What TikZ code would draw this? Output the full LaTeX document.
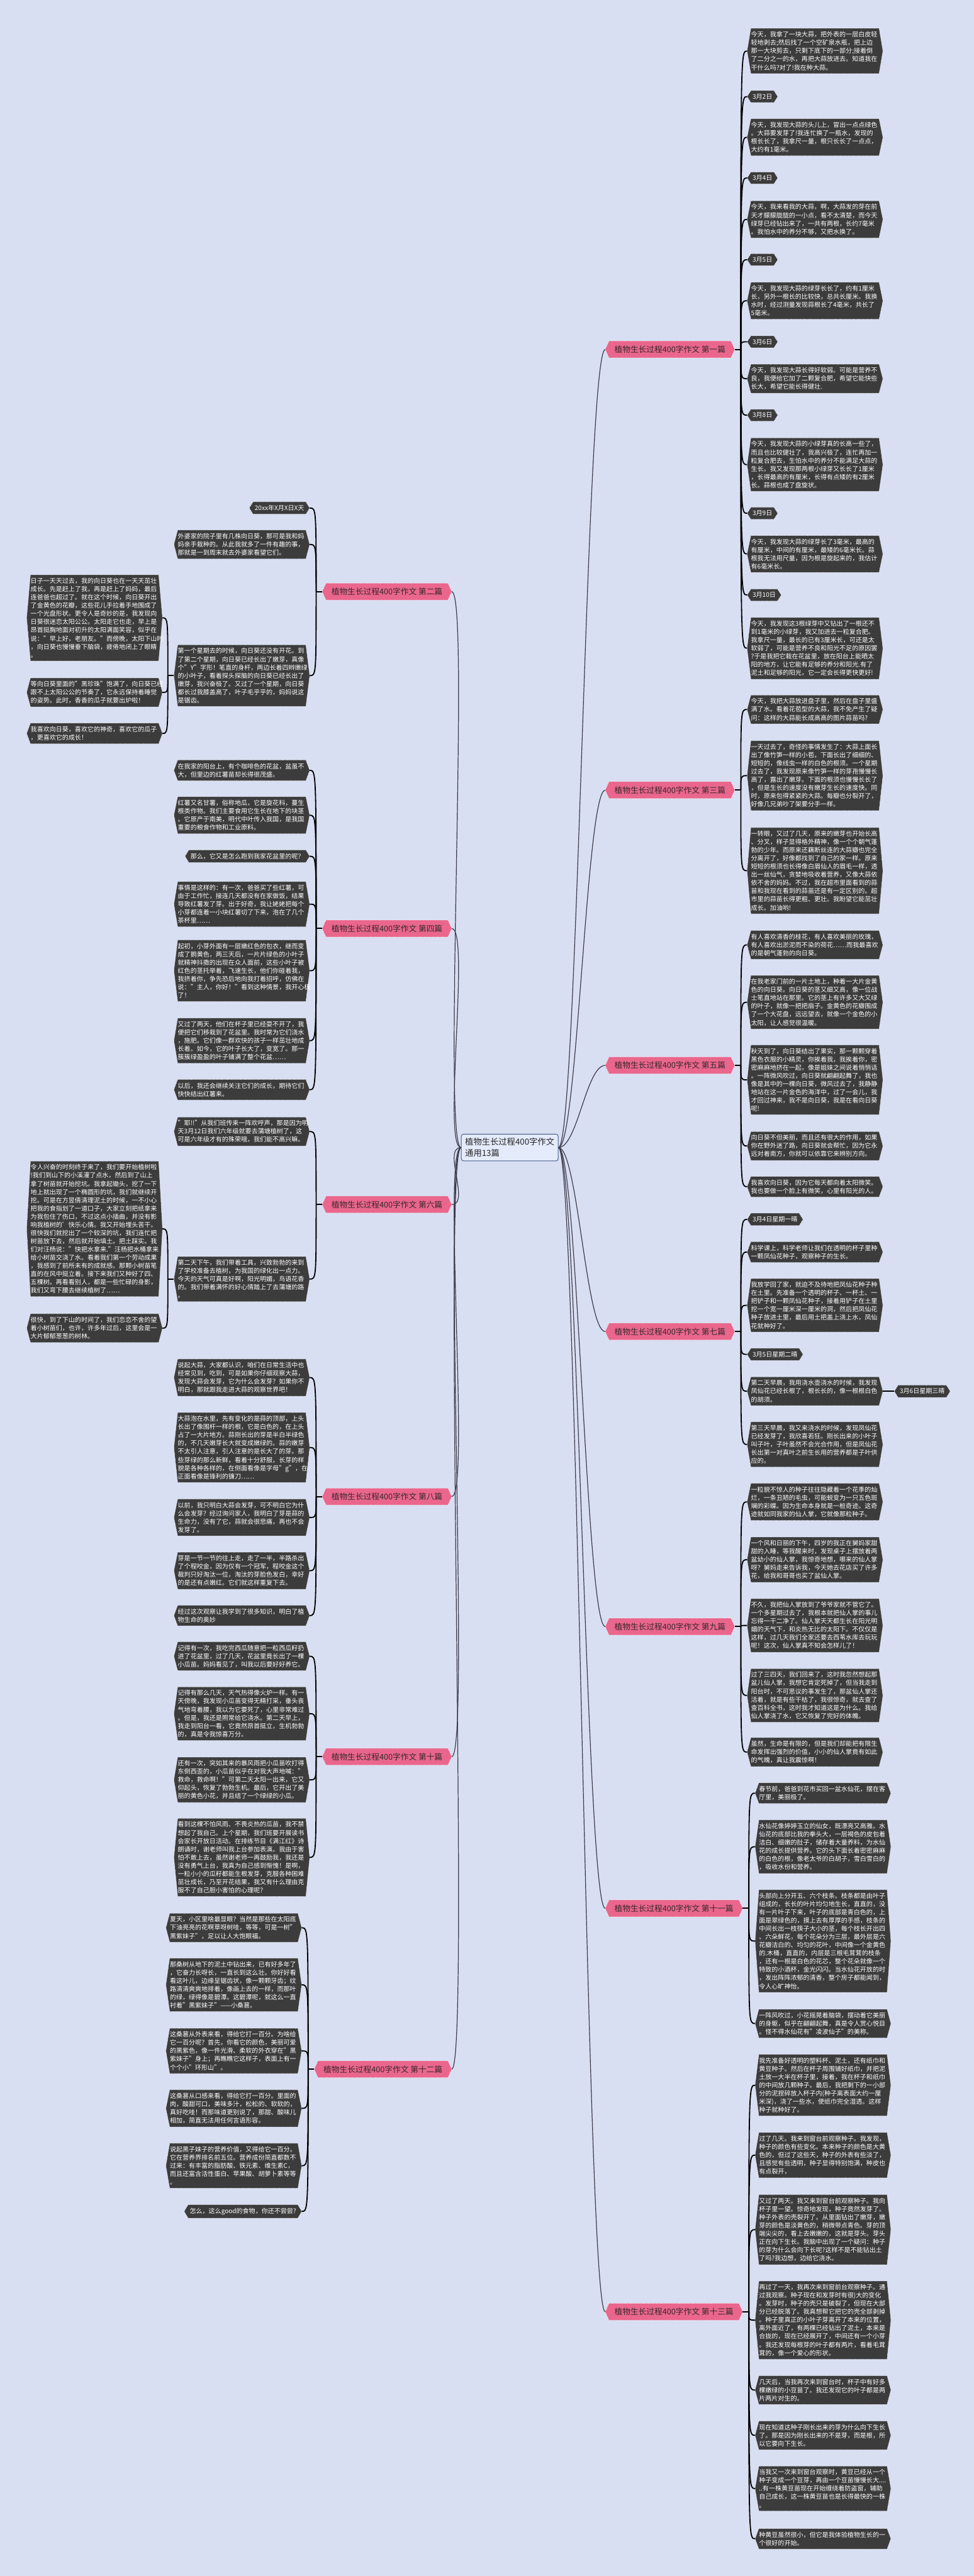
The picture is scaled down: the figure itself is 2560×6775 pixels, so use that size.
\documentclass[tikz,border=0pt]{standalone}
\usepackage{fontspec}
\setmainfont{Noto Sans CJK SC}
\usetikzlibrary{calc}
\pgfdeclarelayer{bg}
\pgfdeclarelayer{background}
\pgfsetlayers{bg,background,main}
\definecolor{bgc}{RGB}{217,223,242}
\definecolor{leafc}{RGB}{60,60,60}
\definecolor{pinkc}{RGB}{234,102,140}
\definecolor{brtext}{RGB}{55,40,45}
\definecolor{cenfill}{RGB}{228,235,250}
\definecolor{cendraw}{RGB}{70,90,140}
\definecolor{trunkc}{RGB}{60,60,75}
\newcommand\leaffont{\fontsize{8.3pt}{10.8pt}\selectfont}
\newcommand\brfont{\fontsize{10.5pt}{13pt}\selectfont}
\newcommand\cenfont{\fontsize{11pt}{15pt}\selectfont}
\newcommand\hexshape[2]{%
\begin{pgfonlayer}{background}
\path[fill=#2,draw=white,densely dotted,line width=0.5pt] (#1.west) -- ([xshift=5pt]#1.north west) -- ([xshift=-5pt]#1.north east) -- (#1.east) -- ([xshift=-5pt]#1.south east) -- ([xshift=5pt]#1.south west) -- cycle;
\end{pgfonlayer}}
\newcommand\lnode[4]{\node[#1] (#2) at #3 {#4};\hexshape{#2}{leafc}}
\newcommand\brnode[4]{\node[branch,#1] (#2) at #3 {植物生长过程400字作文 #4};\hexshape{#2}{pinkc}}
\newcommand\conR[2]{\draw[conn] (#1) .. controls (#1 |- #2.west) .. (#2.west);}
\newcommand\conL[2]{\draw[conn] (#1) .. controls (#1 |- #2.east) .. (#2.east);}
\tikzset{
 leaf/.style={text=white,font=\leaffont,align=left,inner xsep=5pt,inner ysep=4pt,text width=168pt},
 shortleaf/.style={text=white,font=\leaffont,align=left,inner xsep=7pt,inner ysep=4pt},
 branch/.style={text=brtext,font=\brfont,inner xsep=12pt,inner ysep=6pt,anchor=west},
 conn/.style={draw=black,line width=1.5pt},
 trunk/.style={draw=trunkc,line width=1pt},
 cennode/.style={draw=cendraw,fill=cenfill,line width=0.8pt,rounded corners=3pt,font=\cenfont,text=black!85,align=left,inner sep=5pt},
 RL/.style={leaf,anchor=west},
 RS/.style={shortleaf,anchor=west},
 LL/.style={leaf,anchor=east},
 LS/.style={shortleaf,anchor=east}
}
\begin{document}
\begin{tikzpicture}[x=0.5pt,y=-0.5pt]
\useasboundingbox (0,0) rectangle (2560,6775);
\begin{pgfonlayer}{bg}
\fill[bgc] (0,0) rectangle (2560,6775);
\end{pgfonlayer}

\node[cennode] (c) at (1340,3018) {植物生长过程400字作文\\通用13篇};

% ---------- right branches ----------
\brnode{}{b1}{(1591,919)}{第一篇}
\brnode{}{b3}{(1591,2078)}{第三篇}
\brnode{}{b5}{(1591,2802)}{第五篇}
\brnode{}{b7}{(1591,3502)}{第七篇}
\brnode{}{b9}{(1591,4278)}{第九篇}
\brnode{}{b11}{(1591,5019)}{第十一篇}
\brnode{}{b13}{(1591,6080)}{第十三篇}
% ---------- left branches ----------
\brnode{}{b2}{(847,1556)}{第二篇}
\brnode{}{b4}{(847,2442)}{第四篇}
\brnode{}{b6}{(847,3168)}{第六篇}
\brnode{}{b8}{(847,3936)}{第八篇}
\brnode{}{b10}{(847,4620)}{第十篇}
\brnode{}{b12}{(826,5442)}{第十二篇}

\foreach \b in {b1,b3,b5,b7,b9,b11,b13}{\draw[trunk] (c.east) .. controls +(50,0) and +(-50,0) .. (\b.west);}
\foreach \b in {b2,b4,b6,b8,b10,b12}{\draw[trunk] (c.west) .. controls +(-50,0) and +(50,0) .. (\b.east);}

% forks
\foreach \b in {b1,b3,b5,b7,b9,b11,b13}{\coordinate (\b f) at ($(\b.east)+(16,0)$); \draw[conn] (\b.east) -- (\b f);}
\foreach \b in {b2,b4,b6,b8,b10,b12}{\coordinate (\b f) at ($(\b.west)+(-16,0)$); \draw[conn] (\b.west) -- (\b f);}

% ===== 第一篇 =====
\lnode{RL}{a1}{(1964,134)}{今天，我拿了一块大蒜，把外表的一层白皮轻\\轻地剥去;然后找了一个空矿泉水瓶，把上边\\那一大块剪去，只剩下底下的一部分;接着倒\\了二分之一的水，再把大蒜放进去。知道我在\\干什么吗?对了!我在种大蒜。}
\lnode{RS}{a2}{(1964,254)}{3月2日}
\lnode{RL}{a3}{(1964,361)}{今天，我发现大蒜的头儿上，冒出一点点绿色\\。大蒜要发芽了!我连忙换了一瓶水，发现的\\根长长了，我拿尺一量，根只长长了一点点，\\大约有1毫米。}
\lnode{RS}{a4}{(1964,468)}{3月4日}
\lnode{RL}{a5}{(1964,577)}{今天，我来看我的大蒜，啊，大蒜发的芽在前\\天才朦朦胧胧的一小点，看不太清楚，而今天\\绿芽已经钻出来了，一共有两根，长约7毫米\\。我怕水中的养分不够，又把水换了。}
\lnode{RS}{a6}{(1964,683)}{3月5日}
\lnode{RL}{a7}{(1964,791)}{今天，我发现大蒜的绿芽长长了，约有1厘米\\长，另外一根长的比较快，总共长厘米。我换\\水时，经过测量发现蒜根长了4毫米，共长了\\5毫米。}
\lnode{RS}{a8}{(1964,899)}{3月6日}
\lnode{RL}{a9}{(1964,996)}{今天，我发现大蒜长得好软弱。可能是营养不\\良，我便给它加了二颗复合肥，希望它能快些\\长大，希望它能长得健壮.}
\lnode{RS}{a10}{(1964,1092)}{3月8日}
\lnode{RL}{a11}{(1964,1222)}{今天，我发现大蒜的小绿芽真的长高一些了，\\而且也比较健壮了，我高兴极了，连忙再加一\\粒复合肥去，生怕水中的养分不能满足大蒜的\\生长。我又发现那两根小绿芽又长长了1厘米\\，长得最高的有厘米，长得有点矮的有2厘米\\长。蒜根也成了盘旋状。}
\lnode{RS}{a12}{(1964,1350)}{3月9日}
\lnode{RL}{a13}{(1964,1457)}{今天，我发现大蒜的绿芽长了3毫米，最高的\\有厘米，中间的有厘米，最矮的6毫米长。蒜\\根我无法用尺量，因为根是旋起来的，我估计\\有6毫米长。}
\lnode{RS}{a14}{(1964,1565)}{3月10日}
\lnode{RL}{a15}{(1964,1705)}{今天，我发现这3根绿芽中又钻出了一根还不\\到1毫米的小绿芽，我又加进去一粒复合肥。\\我拿尺一量，最长的已有3厘米长，可还是太\\软弱了，可能是营养不良和阳光不足的原因罢\\?于是我把它栽在花盆里，放在阳台上能晒太\\阳的地方，让它能有足够的养分和阳光.有了\\泥土和足够的阳光，它一定会长得更快更好!}
\foreach \n in {a1,a2,a3,a4,a5,a6,a7,a8,a9,a10,a11,a12,a13,a14,a15}{\conR{b1f}{\n}}

% ===== 第三篇 =====
\lnode{RL}{c1}{(1964,1866)}{今天，我把大蒜放进盘子里，然后在盘子里盛\\满了水。看着花苞型的大蒜，我不免产生了疑\\问：这样的大蒜能长成高高的图片蒜苗吗?}
\lnode{RL}{c2}{(1964,2040)}{一天过去了，奇怪的事情发生了：大蒜上面长\\出了像竹笋一样的小苞，下面长出了细细的、\\短短的，像线虫一样的白色的根须。一个星期\\过去了，我发现原来像竹笋一样的芽孢慢慢长\\高了，露出了嫩芽。下面的根须也慢慢长长了\\，但是生长的速度没有嫩芽生长的速度快。同\\时，原来包得紧紧的大蒜。每瓣也分裂开了，\\好像几兄弟吵了架要分手一样。}
\lnode{RL}{c3}{(1964,2290)}{一转眼，又过了几天，原来的嫩芽也开始长高\\、分叉，样子显得格外精神，像一个个朝气蓬\\勃的少年。而原来还藕断丝连的大蒜瓣也完全\\分离开了，好像都找到了自己的家一样。原来\\短短的根须也长得像白眉仙人的眉毛一样，透\\出一丝仙气，贪婪地吸收着营养，又像大蒜依\\依不舍的妈妈。不过，我在超市里面看到的蒜\\苗和我现在看到的蒜苗还是有一定区别的。超\\市里的蒜苗长得更粗、更壮。我盼望它能茁壮\\成长。加油哟!}
\foreach \n in {c1,c2,c3}{\conR{b3f}{\n}}

% ===== 第五篇 =====
\lnode{RL}{e1}{(1964,2485)}{有人喜欢清香的桂花，有人喜欢美丽的玫瑰，\\有人喜欢出淤泥而不染的荷花……而我最喜欢\\的是朝气蓬勃的向日葵。}
\lnode{RL}{e2}{(1964,2636)}{在我老家门前的一片土地上，种着一大片金黄\\色的向日葵。向日葵的茎又细又高，像一位战\\士笔直地站在那里。它的茎上有许多又大又绿\\的叶子，就像一把把扇子。金黄色的花瓣围成\\了一个大花盘，远远望去，就像一个金色的小\\太阳，让人感觉很温暖。}
\lnode{RL}{e3}{(1964,2840)}{秋天到了，向日葵结出了果实，那一颗颗穿着\\黑色衣服的小精灵，你挨着我，我挨着你，密\\密麻麻地挤在一起，像是姐妹之间说着悄悄话\\。一阵微风吹过，向日葵就翩翩起舞了，我也\\像是其中的一棵向日葵，微风过去了，我静静\\地站在这一片金色的海洋中，过了一会儿，我\\才回过神来，我不是向日葵，我是在看向日葵\\呢!}
\lnode{RL}{e4}{(1964,3014)}{向日葵不但美丽，而且还有很大的作用，如果\\你在野外迷了路，向日葵就会帮忙，因为它永\\远对着南方，你就可以依靠它来辨别方向。}
\lnode{RL}{e5}{(1964,3121)}{我喜欢向日葵，因为它每天都向着太阳微笑。\\我也要做一个脸上有微笑，心里有阳光的人。}
\foreach \n in {e1,e2,e3,e4,e5}{\conR{b5f}{\n}}

% ===== 第七篇 =====
\lnode{RS}{g1}{(1964,3207)}{3月4日星期一晴}
\lnode{RL}{g2}{(1964,3293)}{科学课上，科学老师让我们在透明的杯子里种\\一颗凤仙花种子，观察种子的生长。}
\lnode{RL}{g3}{(1964,3433)}{我放学回了家，就迫不及待地把凤仙花种子种\\在土里。先准备一个透明的杯子、一杯土、一\\把铲子和一颗凤仙花种子，接着用铲子在土里\\挖一个宽一厘米深一厘米的洞，然后把凤仙花\\种子放进土里，最后用土把盖上浇上水，凤仙\\花就种好了。}
\lnode{RS}{g4}{(1964,3562)}{3月5日星期二晴}
\lnode{RL}{g5}{(1964,3659)}{第二天早晨，我用浇水壶浇水的时候，我发现\\凤仙花已经长根了，根长长的，像一根根白色\\的胡须。}
\lnode{RL}{g6}{(1964,3799)}{第三天早晨，我又来浇水的时候，发现凤仙花\\已经发芽了，我欣喜若狂。刚长出来的小叶子\\叫子叶，子叶虽然不会光合作用，但是凤仙花\\长出第一对真叶之前生长用的营养都是子叶供\\应的。}
\lnode{RS}{g7}{(2351,3659)}{3月6日星期三晴}
\foreach \n in {g1,g2,g3,g4,g5,g6}{\conR{b7f}{\n}}
\draw[conn] (g5.east) -- (g7.west);

% ===== 第九篇 =====
\lnode{RL}{i1}{(1964,3950)}{一粒貌不惊人的种子往往隐藏着一个花季的灿\\烂，一条丑陋的毛虫，可能蜕变为一只五色斑\\斓的彩蝶。因为生命本身就是一桩奇迹。这奇\\迹就如同我家的仙人掌，它就像那粒种子。}
\lnode{RL}{i2}{(1964,4102)}{一个风和日丽的下午，四岁的我正在舅妈家甜\\甜的入睡，等我醒来时，发现桌子上摆放着两\\盆幼小的仙人掌，我惊奇地想，哪来的仙人掌\\呀？舅妈走来告诉我，今天她去花店买了许多\\花，给我和哥哥也买了盆仙人掌。}
\lnode{RL}{i3}{(1964,4275)}{不久，我把仙人掌放到了爷爷家就不管它了。\\一个多星期过去了，我根本就把仙人掌的事儿\\忘得一干二净了。仙人掌天天都生长在阳光明\\媚的天气下，和炎热无比的太阳下。不仅仅是\\这样，过几天我们全家还要去西苇水库去玩玩\\呢！这次，仙人掌真不知会怎样儿了！}
\lnode{RL}{i4}{(1964,4459)}{过了三四天，我们回来了，这时我忽然想起那\\盆儿仙人掌，我想它肯定死掉了，但当我走到\\阳台时，不可思议的事发生了，那盆仙人掌还\\活着，就是有些干枯了，我很惊奇，就去查了\\查百科全书，这时我才知道这是为什么。我给\\仙人掌浇了水，它又恢复了完好的体魄。}
\lnode{RL}{i5}{(1964,4608)}{虽然，生命是有限的，但是我们却能把有限生\\命发挥出强烈的价值，小小的仙人掌竟有如此\\的气魄，真让我震惊啊！}
\foreach \n in {i1,i2,i3,i4,i5}{\conR{b9f}{\n}}

% ===== 第十一篇 =====
\lnode{RL}{k1}{(1985,4716)}{春节前，爸爸到花市买回一盆水仙花，摆在客\\厅里，美丽极了。}
\lnode{RL}{k2}{(1985,4857)}{水仙花像婷婷玉立的仙女，既漂亮又高雅。水\\仙花的底部比我的拳头大，一层褐色的皮包着\\洁白、细嫩的肚子，储存着大量养料，为水仙\\花的成长提供营养。它的头下面长着密密麻麻\\的白色的根，像老太爷的白胡子，雪白雪白的\\，吸收水份和营养。}
\lnode{RL}{k3}{(1985,5105)}{头部向上分开五、六个枝条。枝条都是由叶子\\组成的，长长的叶片均匀地生长，直直的，没\\有一片叶子下来，叶子的底部是青白色的，上\\面是翠绿色的，摸上去有厚厚的手感，枝条的\\中间长出一枝筷子大小的茎，每个枝长开出四\\、六朵鲜花，每个花朵分为三层，最外层是六\\花瓣洁白的、均匀的花叶，中间像一个金黄色\\的.木桶，直直的，内层是三根毛茸茸的枝条\\，还有一根是白色的花芯，整个花朵就像一个\\特致的小酒杯，金光闪闪。当水仙花开放的时\\，发出阵阵浓郁的清香，整个房子都能闻到，\\令人心旷神怡。}
\lnode{RL}{k4}{(1985,5322)}{一阵风吹过，小花摇晃着脑袋，摆动着它美丽\\的身躯，似乎在翩翩起舞，真是令人赏心悦目\\。怪不得水仙花有"凌波仙子"的美称。}
\foreach \n in {k1,k2,k3,k4}{\conR{b11f}{\n}}

% ===== 第十三篇 =====
\lnode{RL}{m1}{(1985,5484)}{我先准备好透明的塑料杯、泥土，还有纸巾和\\黄豆种子。然后在杯子周围铺好纸巾，并把泥\\土放一大半在杯子里，接着，我在杯子和纸巾\\的中间放几颗种子。最后，我把剩下的一小部\\分的泥捏碎放入杯子内(种子离表面大约一厘\\米深)，浇了一些水，使纸巾完全湿透。这样\\种子就种好了。}
\lnode{RL}{m2}{(1985,5668)}{过了几天。我来到窗台前观察种子。我发现，\\种子的颜色有些变化。本来种子的颜色是大黄\\色的，但过了这些天，种子的外表有些淡了，\\且感觉有些透明，种子显得特别饱满，种皮也\\有点裂开，}
\lnode{RL}{m3}{(1985,5864)}{又过了两天。我又来到窗台前观察种子。我向\\杯子里一望。惊奇地发现，种子竟然发芽了。\\种子外表的壳裂开了。从里面钻出了嫩芽，嫩\\芽的颜色是淡黄色的，稍微带点青色。芽的顶\\端尖尖的，看上去嫩嫩的，这就是芽头。芽头\\正在向下生长。我脑中出现了一个疑问：种子\\的芽为什么会向下长呢?这样不是不能钻出土\\了吗?我边想，边给它浇水。}
\lnode{RL}{m4}{(1985,6102)}{再过了一天，我再次来到窗前台观察种子。通\\过我观察。种子现在和发芽时有很)大的变化\\。发芽时，种子的壳只是破裂了，但现在大部\\分已经脱落了。我真想帮它把它的壳全部剥掉\\。种子里真正的小叶子芽离开了本来的位置，\\离外面近了，有两棵已经钻出了泥土，本来是\\合拢的，现在已经展开了，中间还有一个小芽\\。我还发现每根芽的叶子都有两片，看着毛茸\\茸的，像一个爱心的形状。}
\lnode{RL}{m5}{(1985,6286)}{几天后，当我再次来到窗台时，杯子中有好多\\棵嫩绿的小豆苗了。我还发现它的叶子都是两\\片两片对生的。}
\lnode{RL}{m6}{(1985,6405)}{现在知道这种子刚长出来的芽为什么向下生长\\了。那是因为刚长出来的不是芽，而是根，所\\以它要向下生长。}
\lnode{RL}{m7}{(1985,6545)}{当我又一次来到窗台观察时，黄豆已经从一个\\种子变成一个豆芽，再由一个豆苗慢慢长大....\\..有一株黄豆苗现在开始缠绕着防盗窗，辅助\\自己成长，这一株黄豆苗也是长得最快的一株\\。}
\lnode{RL}{m8}{(1985,6677)}{种黄豆虽然很小，但它是我体验植物生长的一\\个很好的开始。}
\foreach \n in {m1,m2,m3,m4,m5,m6,m7,m8}{\conR{b13f}{\n}}

% ===== 第二篇 =====
\lnode{LS}{d1}{(814,1336)}{20xx年X月X日X天}
\lnode{LL}{d2}{(814,1432)}{外婆家的院子里有几株向日葵，那可是我和妈\\妈亲手栽种的。从此我就多了一件有趣的事，\\那就是一到周末就去外婆家看望它们。}
\lnode{LL}{d3}{(814,1777)}{第一个星期去的时候，向日葵还没有开花。到\\了第二个星期，向日葵已经长出了嫩芽，真像\\个"Y"字形！笔直的身杆，两边长着四辫嫩绿\\的小叶子，看着探头探脑的向日葵已经长出了\\嫩芽，我兴奋极了。又过了一个星期，向日葵\\都长过我膝盖高了，叶子毛乎乎的，妈妈说这\\是锯齿。}
\lnode{LL}{d4}{(427,1625)}{日子一天天过去，我的向日葵也在一天天茁壮\\成长。先是赶上了我，再是赶上了妈妈，最后\\连爸爸也超过了。就在这个时候，向日葵开出\\了金黄色的花瓣，这些花儿手拉着手地围成了\\一个光盘形状。更令人是奇妙的是，我发现向\\日葵很迷恋太阳公公。太阳走它也走，早上是\\昂首挺胸地面对初升的太阳满面笑容，似乎在\\说："早上好，老朋友。"而傍晚，太阳下山时\\，向日葵也慢慢垂下脑袋，疲倦地闭上了眼睛\\。}
\lnode{LL}{d5}{(427,1821)}{等向日葵里面的"黑珍珠"饱满了，向日葵已经\\跟不上太阳公公的节奏了，它永远保持着睡觉\\的姿势。此时，香香的瓜子就要出炉啦！}
\lnode{LL}{d6}{(427,1929)}{我喜欢向日葵，喜欢它的神奇，喜欢它的瓜子\\，更喜欢它的成长！}
\foreach \n in {d1,d2,d3}{\conL{b2f}{\n}}
\coordinate (d3f) at ($(d3.west)+(-16,0)$);
\draw[conn] (d3.west) -- (d3f);
\foreach \n in {d4,d5,d6}{\conL{d3f}{\n}}

% ===== 第四篇 =====
\lnode{LL}{f1}{(814,2026)}{在我家的阳台上，有个咖啡色的花盆，盆虽不\\大，但里边的红薯苗却长得很茂盛。}
\lnode{LL}{f2}{(814,2144)}{红薯又名甘薯，俗称地瓜，它是旋花科，蔓生\\根类作物。我们主要食用它生长在地下的块茎\\。它原产于南美，明代中叶传入我国，是我国\\重要的粮食作物和工业原料。}
\lnode{LS}{f3}{(814,2252)}{那么，它又是怎么跑到我家花盆里的呢？}
\lnode{LL}{f4}{(814,2378)}{事情是这样的：有一次，爸爸买了些红薯，可\\由于工作忙，接连几天都没有在家做饭，结果\\导致红薯发了芽。出于好奇，我让姥姥把每个\\小芽都连着一小块红薯切了下来，泡在了几个\\茶杯里……}
\lnode{LL}{f5}{(814,2553)}{起初，小芽外面有一层嫩红色的包衣，继而变\\成了鹅黄色，两三天后，一片片绿色的小叶子\\就精神抖擞的出现在众人面前，这些小叶子被\\红色的茎托举着，飞速生长，他们你碰着我，\\我挤着你，争先恐后地向我打着招呼，仿佛在\\说："主人，你好！"看到这种情景，我开心极\\了！}
\lnode{LL}{f6}{(814,2737)}{又过了两天，他们在杯子里已经耍不开了，我\\便把它们移栽到了花盆里。我时常为它们浇水\\，施肥。它们像一群欢快的孩子一样茁壮地成\\长着。如今，它的叶子长大了，变宽了。那一\\簇簇绿盈盈的叶子铺满了整个花盆……}
\lnode{LL}{f7}{(814,2866)}{以后，我还会继续关注它们的成长，期待它们\\快快结出红薯来。}
\foreach \n in {f1,f2,f3,f4,f5,f6,f7}{\conL{b4f}{\n}}

% ===== 第六篇 =====
\lnode{LL}{h1}{(814,2976)}{"耶!!"从我们班传来一阵欢呼声，那是因为明\\天3月12日我们六年级就要去蒲塘植树了，这\\可是六年级才有的殊荣哦，我们能不高兴嘛。}
\lnode{LL}{h2}{(814,3364)}{第二天下午，我们带着工具，兴致勃勃的来到\\了学校准备去植树，为我国的绿化出一点力。\\今天的天气可真是好啊，阳光明媚，鸟语花香\\的。我们带着满怀的好心情踏上了去蒲塘的路\\。}
\lnode{LL}{h3}{(427,3232)}{令人兴奋的时刻终于来了，我们要开始植树啦\\!我们到山下的小溪灌了点水，然后到了山上\\拿了树苗就开始挖坑。我拿起锄头，挖了一下\\地上就出现了一个椭圆形的坑，我们就继续开\\挖。可是在方昱倩清理泥土的时候，一不小心\\把我的食指划了一道口子，大家立刻把纸拿来\\为我包住了伤口，不过这点小插曲，并没有影\\响我植树的'快乐心情。我又开始埋头苦干。\\很快我们就挖出了一个较深的坑，我们连忙把\\树苗放下去，然后就开始填土。把土踩实。我\\们对汪杨说："快把水拿来."汪杨把水桶拿来\\给小树苗交浇了水。看着我们第一个劳动成果\\，我感到了前所未有的成就感。那颗小树苗笔\\直的在风中挺立着。接下来我们又种好了四、\\五棵树。再看看别人，都是一些忙碌的身影，\\我们又弯下腰去继续植树了……}
\lnode{LL}{h4}{(427,3493)}{很快，到了下山的时间了，我们恋恋不舍的望\\着小树苗们，也许，许多年过后，这里会是一\\大片郁郁葱葱的树林。}
\foreach \n in {h1,h2}{\conL{b6f}{\n}}
\coordinate (h2f) at ($(h2.west)+(-16,0)$);
\draw[conn] (h2.west) -- (h2f);
\foreach \n in {h3,h4}{\conL{h2f}{\n}}

% ===== 第八篇 =====
\lnode{LL}{j1}{(814,3623)}{说起大蒜，大家都认识，咱们在日常生活中也\\经常见到，吃到，可是如果你仔细观察大蒜，\\发现大蒜会发芽，它为什么会发芽？如果你不\\明白，那就跟我走进大蒜的观察世界吧！}
\lnode{LL}{j2}{(814,3807)}{大蒜泡在水里，先有变化的是蒜的顶部，上头\\长出了像围杆一样的根，它是白色的，在上头\\占了一大片地方。蒜刚长出的芽是半白半绿色\\的，不几天嫩芽长大就变成嫩绿的。蒜的嫩芽\\不太引人注意，引人注意的是长大了的芽。那\\些芽绿的那么新鲜，看着十分舒服，长芽的样\\貌是各种各样的，在侧面看像是字母"g"，在\\正面看像是锋利的镰刀……}
\lnode{LL}{j3}{(814,3991)}{以前，我只明白大蒜会发芽，可不明白它为什\\么会发芽？经过询问家人，我明白了芽是蒜的\\生命力，没有了它，蒜就会很悲痛，再也不会\\发芽了。}
\lnode{LL}{j4}{(814,4131)}{芽是一节一节的往上走，走了一半，半路杀出\\了个程咬金，因为仅有一个冠军，程咬金这个\\裁判只好淘汰一位，淘汰的芽脸色发白，幸好\\的是还有点嫩红。它们就这样重复下去。}
\lnode{LL}{j5}{(814,4249)}{经过这次观察让我学到了很多知识，明白了植\\物生命的奥妙}
\foreach \n in {j1,j2,j3,j4,j5}{\conL{b8f}{\n}}

% ===== 第十篇 =====
\lnode{LL}{l1}{(814,4356)}{记得有一次，我吃完西瓜随意把一粒西瓜籽扔\\进了花盆里，过了几天，花盆里竟长出了一棵\\小瓜苗。妈妈看见了，叫我以后要好好养它。}
\lnode{LL}{l2}{(814,4507)}{记得有那么几天，天气热得像火炉一样。有一\\天傍晚，我发现小瓜苗变得无精打采，垂头丧\\气地弯着腰，我以为它要死了，心里非常难过\\。但是，我还是照常给它浇水。第二天早上，\\我走到阳台一看，它竟然昂首挺立，生机勃勃\\的，真是令我惊喜万分。}
\lnode{LL}{l3}{(814,4681)}{还有一次，突如其来的暴风雨把小瓜苗吹打得\\东倒西歪的，小瓜苗似乎在对我大声地喊："\\救命，救命啊！"可第二天太阳一出来，它又\\仰起头，恢复了勃勃生机。最后，它开出了美\\丽的黄色小花，并且结了一个绿绿的小瓜。}
\lnode{LL}{l4}{(814,4885)}{看到这棵不怕风雨、不畏炎热的瓜苗，我不禁\\想起了我自己。上个星期，我们班要开展读书\\会家长开放日活动。在排练节目《满江红》诗\\朗诵时，谢老师叫我上台参加表演。我由于害\\怕不敢上去，虽然谢老师一再鼓励我，我还是\\没有勇气上台，我真为自己感到惭愧！是啊，\\一粒小小的瓜籽都能生根发芽，克服各种困难\\茁壮成长，乃至开花结果，我又有什么理由克\\服不了自己胆小害怕的心理呢？}
\foreach \n in {l1,l2,l3,l4}{\conL{b10f}{\n}}

% ===== 第十二篇 =====
\lnode{LL}{n1}{(793,5070)}{夏天，小区里啥最显眼？当然是那些在太阳底\\下油亮亮的花啊草呀树哇，等等，可是一树"\\黑紫妹子"，足以让人大饱眼福。}
\lnode{LL}{n2}{(793,5220)}{那桑树从地下的泥土中钻出来，已有好多年了\\，它奋力长呀长，一直长到这么壮。你好好看\\看这叶儿，边缘呈锯齿状，像一颗颗牙齿；纹\\路清清爽爽地排着，像画上去的一样，而那叶\\的绿，绿得像是碧潭。这碧潭呢，就这么一直\\衬着"黑紫妹子"——小桑葚。}
\lnode{LL}{n3}{(793,5394)}{这桑葚从外表来看，得给它打一百分。为啥给\\它一百分呢？首先，你看它的颜色，美丽可爱\\的黑紫色，像一件光滑、柔软的外衣穿在"黑\\紫妹子"身上；再瞧瞧它这样子，表面上有一\\个个小"环形山"。}
\lnode{LL}{n4}{(793,5545)}{这桑葚从口感来看，得给它打一百分。里面的\\肉，酸甜可口，美味多汁，松松的、软软的，\\真好吃哇！而那味道更别说了，那甜、酸味儿\\相加，简直无法用任何言语形容。}
\lnode{LL}{n5}{(793,5696)}{说起黑子妹子的营养价值，又得给它一百分。\\它在营养界排名前五位。营养成份简直都数不\\过来：有丰富的脂肪酸、铁元素、维生素C，\\而且还富含活性蛋白、苹果酸、胡萝卜素等等\\。}
\lnode{LS}{n6}{(793,5816)}{怎么，这么good的食物，你还不尝尝?}
\foreach \n in {n1,n2,n3,n4,n5,n6}{\conL{b12f}{\n}}

\end{tikzpicture}
\end{document}
